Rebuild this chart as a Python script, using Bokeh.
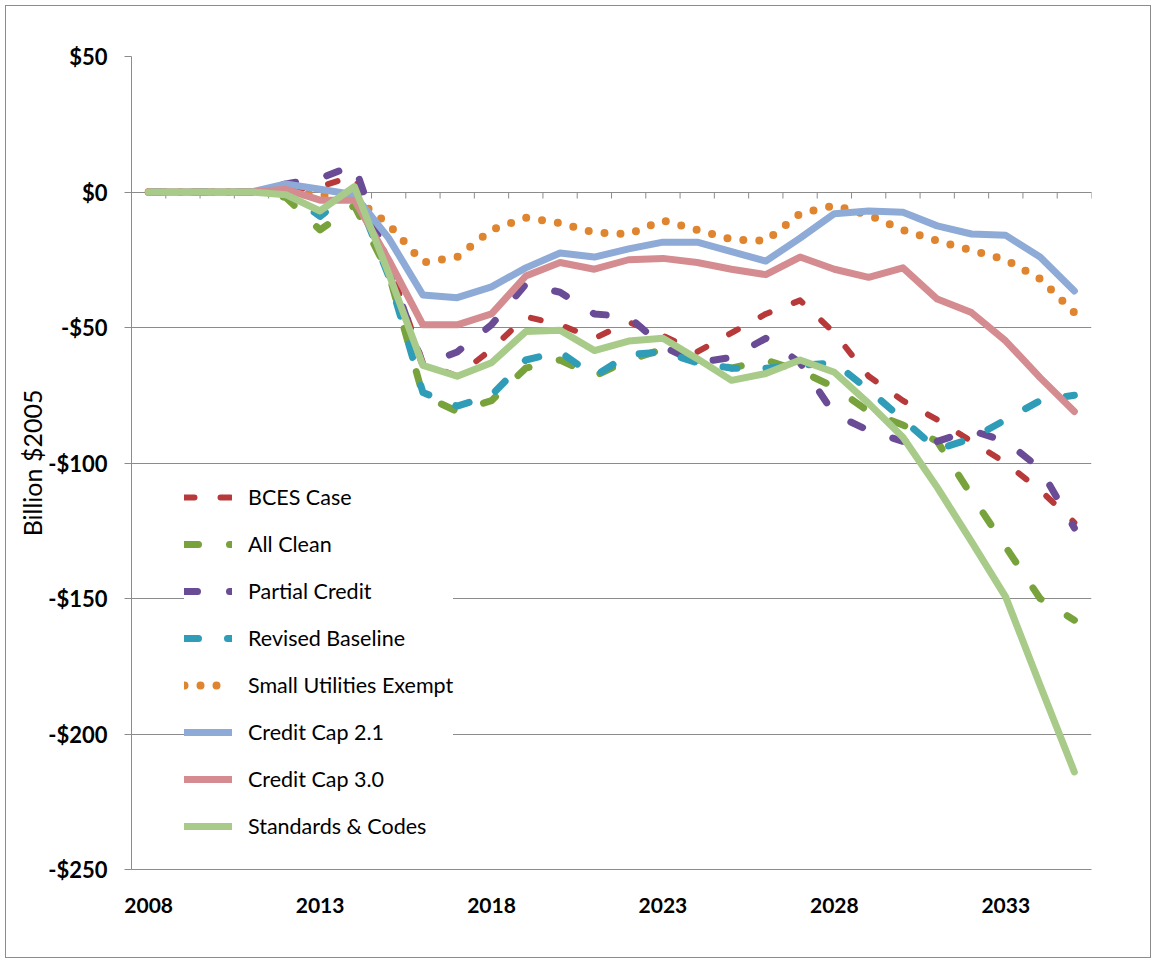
from bokeh.plotting import figure
from bokeh.models import FixedTicker, Legend, LegendItem
from bokeh.embed import file_html
from bokeh.resources import INLINE

years = list(range(2008, 2036))

bces_case = [0, 0, 0, 0, 0.5, 2, 6, -26, -63, -68, -58, -46, -49, -54, -48, -53,
             -59, -52, -45, -40, -52, -68, -77, -84, -92, -100, -110, -122]
all_clean = [0, 0, 0, 0, -2, -14, -5, -30, -75, -81, -77, -65, -62, -68, -62, -58,
             -62, -65, -62, -66, -72, -81, -86, -92, -112, -131, -150, -158]
partial_credit = [0, 0, 0, 0, 3, 5, 10, -27, -64, -59, -49, -34, -37, -45, -46, -57,
                  -63, -61, -54, -63, -82, -88, -92, -92, -88, -92, -102, -124]
revised_baseline = [0, 0, 0, 0, 0, -9, 1, -31, -74, -79, -75, -62, -59, -68, -60, -59,
                    -63, -65, -65, -64, -63, -73, -84, -95, -91, -84, -77, -75]
small_utilities = [0, 0, 0, 0, 0, -1, -2, -12, -26, -24, -14, -9.5, -11.5, -15, -15.5, -10.5,
                   -14, -17.5, -18, -8, -5, -8.5, -14, -18, -21.5, -25, -32, -44.5]
credit_cap_21 = [0, 0, 0, 0, 3, 1, -1, -17, -38, -39, -35, -28, -22.5, -24, -21, -18.5,
                 -18.5, -22, -25.5, -17, -8, -7, -7.5, -12.5, -15.5, -16, -24, -36.5]
credit_cap_30 = [0, 0, 0, 0, 1, -3, -3, -25, -49, -49, -45, -31, -26, -28.5, -25, -24.5,
                 -26, -28.5, -30.5, -24, -28.5, -31.5, -28, -39.5, -44.5, -55, -68.5, -81]
standards_codes = [0, 0, 0, 0, -1, -7, 2, -30, -64, -68, -63, -51.5, -51, -58.5, -55, -54,
                   -61.5, -69.5, -67, -62, -66.5, -78, -90.5, -109, -129, -149.5, -182, -214]

series_names = ["BCES Case", "All Clean", "Partial Credit", "Revised Baseline",
                "Small Utilities Exempt", "Credit Cap 2.1", "Credit Cap 3.0", "Standards & Codes"]
series_values = [bces_case, all_clean, partial_credit, revised_baseline,
                 small_utilities, credit_cap_21, credit_cap_30, standards_codes]

y_ticks = [-250, -200, -150, -100, -50, 0, 50]
x_label_years = [2008, 2013, 2018, 2023, 2028, 2033]

styles = [
    dict(color="#b8393a", width=6, dash="10 26"),
    dict(color="#78a23c", width=7, dash="14 31"),
    dict(color="#6a4b95", width=7, dash="13 32"),
    dict(color="#2f9db7", width=7, dash="14 29"),
    dict(color="#e0852f", width=8, dash="0 16"),
    dict(color="#8eaad6", width=7, dash="solid"),
    dict(color="#d48c91", width=7, dash="solid"),
    dict(color="#a8cb8a", width=7, dash="solid"),
]

p = figure(width=1146, height=953, output_backend="svg", toolbar_location=None,
           x_range=(years[0] - 0.5, years[-1] + 0.5), y_range=(y_ticks[0], y_ticks[-1]),
           min_border_left=125, min_border_right=61, min_border_top=50, min_border_bottom=90)
p.margin = (5, 0, 0, 5)
p.outline_line_color = None
p.styles = {"border": "1px solid #8c8c8c"}

# gridlines
p.xgrid.visible = False
p.ygrid.grid_line_color = "#8c8c8c"
p.ygrid.grid_line_width = 1

# y axis
p.yaxis.ticker = FixedTicker(ticks=y_ticks)
p.yaxis.major_label_overrides = {v: ("-$%d" % -v if v < 0 else "$%d" % v) for v in y_ticks}
p.yaxis.major_label_text_font = "Lato"
p.yaxis.major_label_text_font_style = "bold"
p.yaxis.major_label_text_font_size = "22px"
p.yaxis.major_label_text_color = "#000000"
p.yaxis.axis_line_color = "#8c8c8c"
p.yaxis.major_tick_line_color = "#8c8c8c"
p.yaxis.major_tick_out = 7
p.yaxis.major_tick_in = 0
p.yaxis.minor_tick_line_color = None
p.yaxis.major_label_standoff = 17
p.yaxis.axis_label = "Billion $2005"
p.yaxis.axis_label_text_font = "Lato"
p.yaxis.axis_label_text_font_style = "normal"
p.yaxis.axis_label_text_font_size = "25px"
p.yaxis.axis_label_text_color = "#000000"
p.yaxis.axis_label_standoff = -2

# x axis
p.xaxis.ticker = FixedTicker(ticks=x_label_years)
p.xaxis.major_label_text_font = "Lato"
p.xaxis.major_label_text_font_style = "bold"
p.xaxis.major_label_text_font_size = "21px"
p.xaxis.major_label_text_color = "#000000"
p.xaxis.axis_line_color = "#8c8c8c"
p.xaxis.major_tick_line_color = None
p.xaxis.minor_tick_line_color = None
p.xaxis.major_label_standoff = 22

# category tick marks on the zero line
bounds = [y - 0.5 for y in years] + [years[-1] + 0.5]
p.segment(x0=bounds, y0=[0] * len(bounds), x1=bounds, y1=[-2.4] * len(bounds),
          line_color="#8c8c8c", line_width=1)

items = []
for name, vals, st in zip(series_names, series_values, styles):
    r = p.line(years, vals, line_color=st["color"], line_width=st["width"],
               line_dash=st["dash"], line_cap="round", line_join="round")
    items.append(LegendItem(label=name, renderers=[r]))

legend = Legend(items=items, location=(53, 30), glyph_width=48, glyph_height=20,
                label_height=20, spacing=21, padding=10, label_standoff=16,
                label_text_font="Lato", label_text_font_size="21.5px",
                label_text_color="#000000",
                background_fill_color="white", background_fill_alpha=1.0,
                border_line_color=None, margin=0)
p.add_layout(legend)

open("out.html", "w").write(file_html(p, INLINE))
